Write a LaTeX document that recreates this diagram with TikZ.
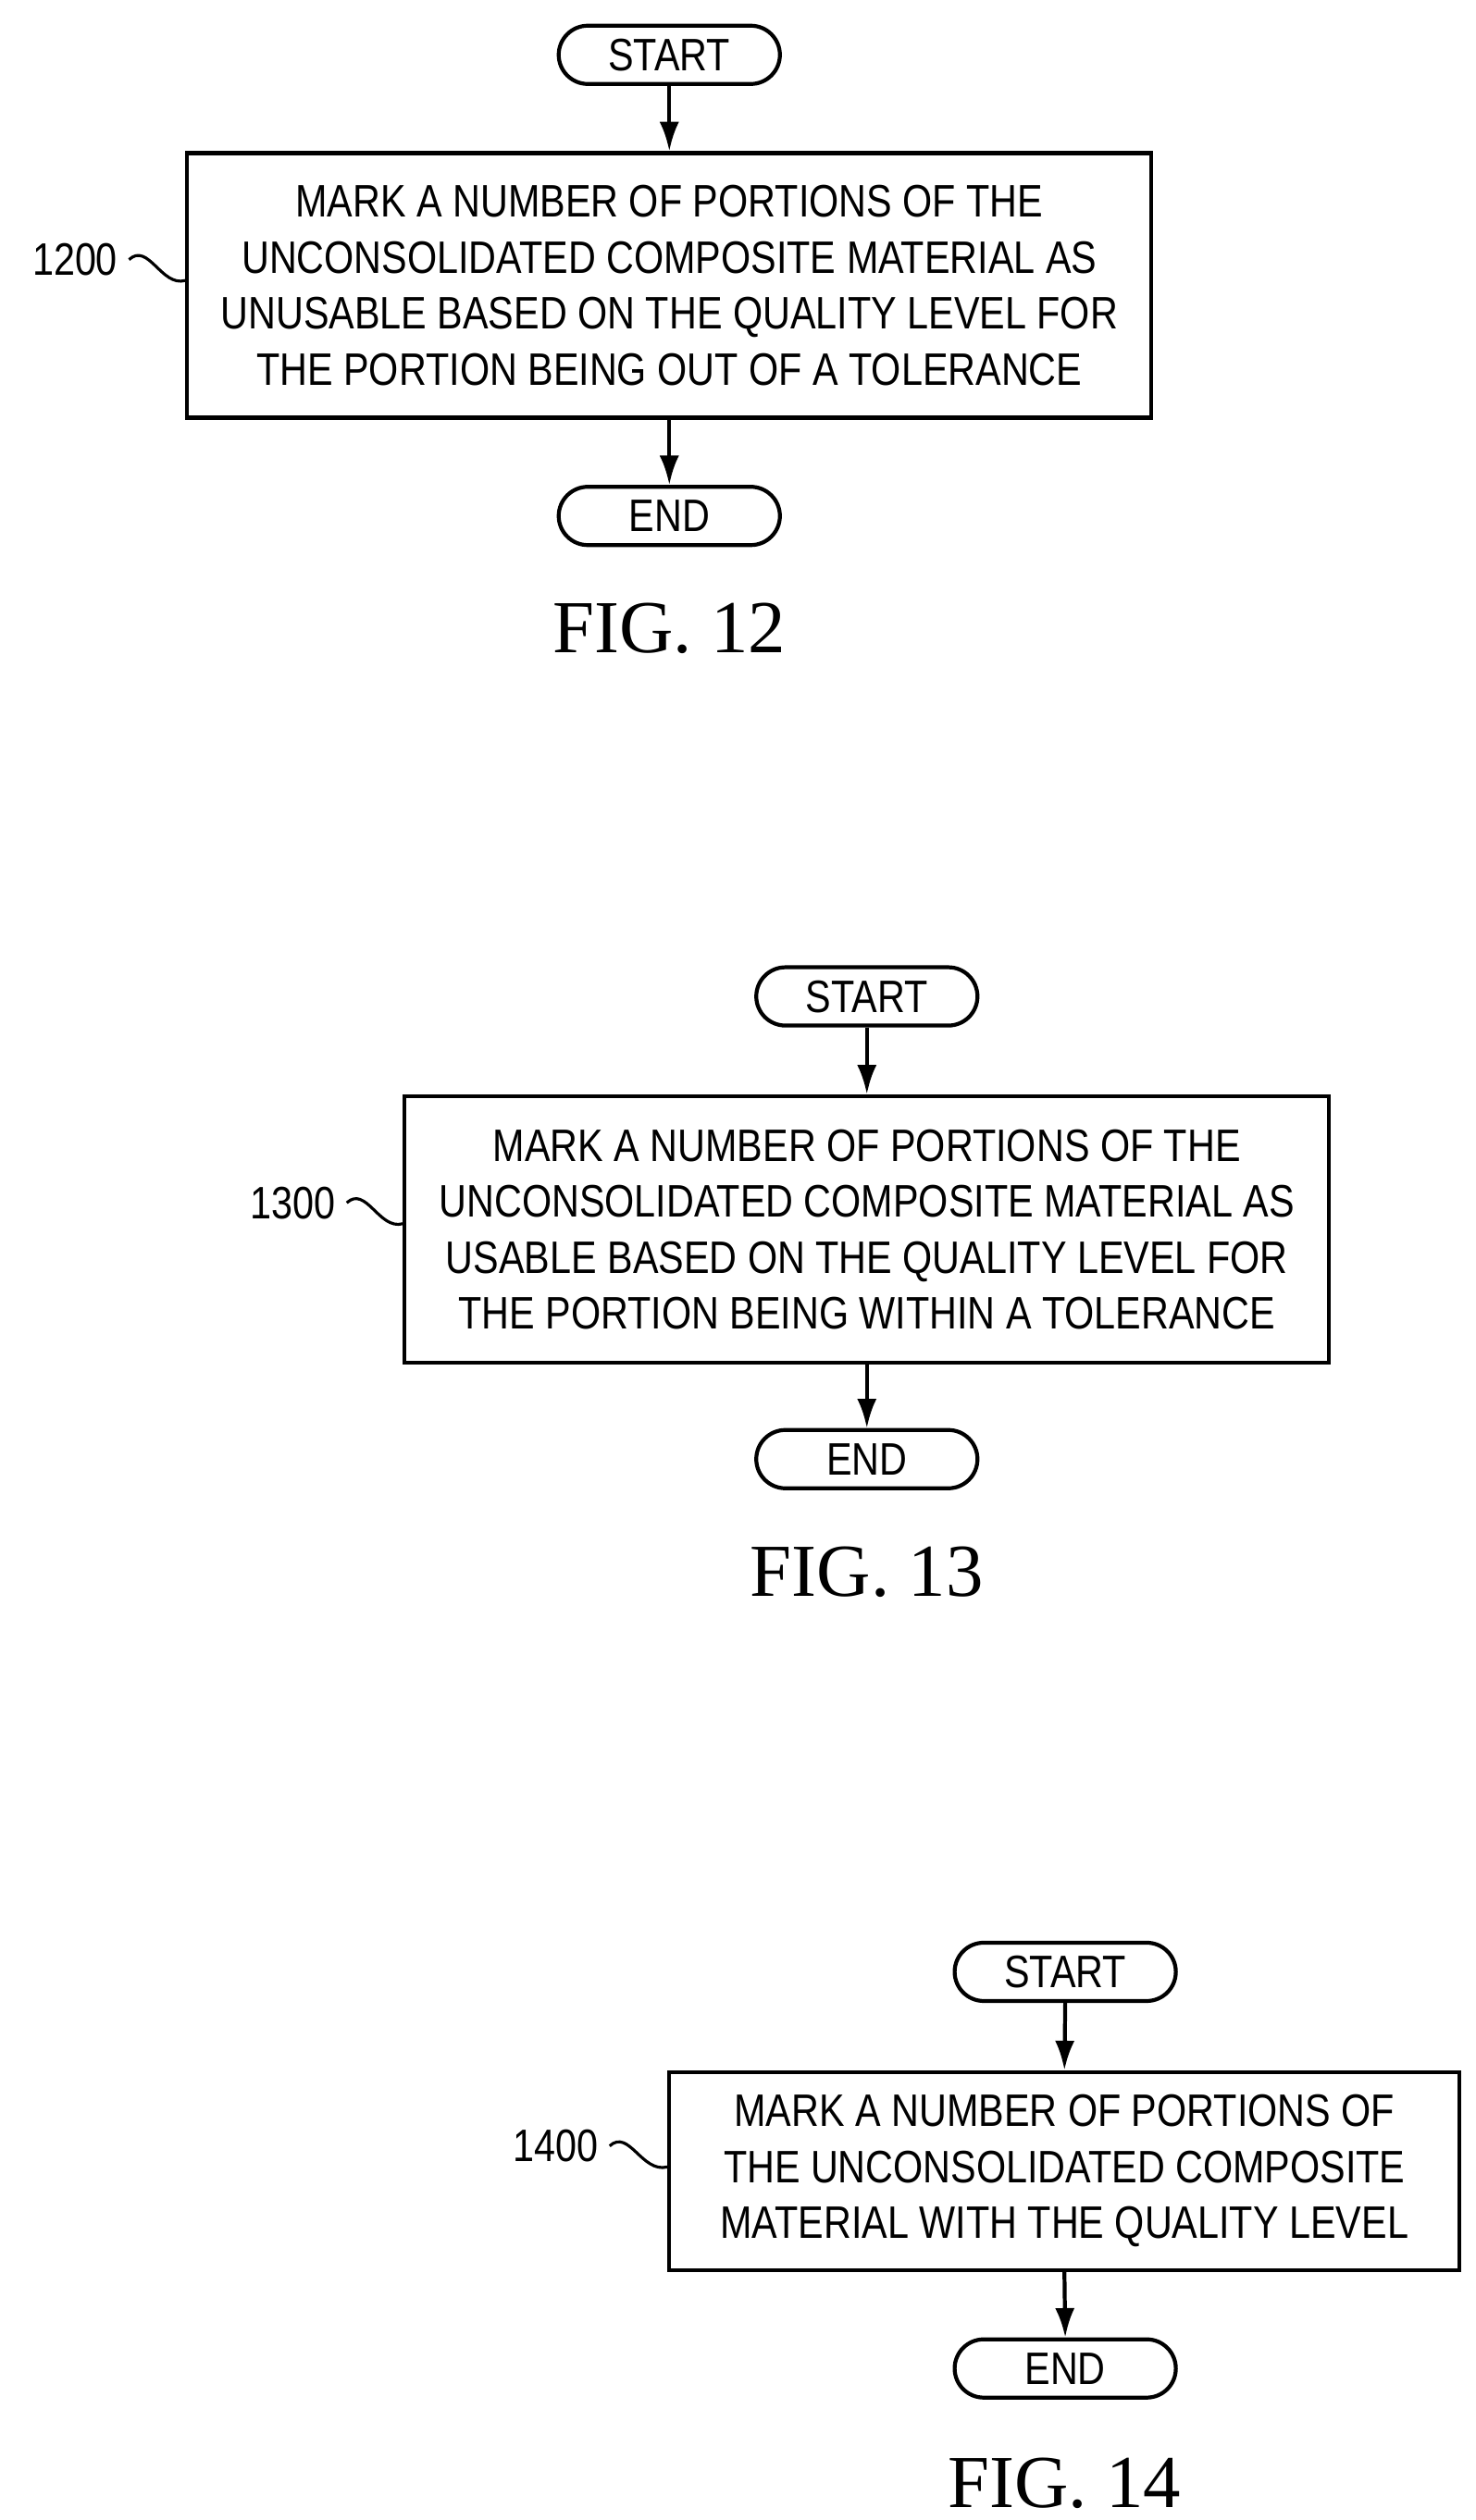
\documentclass[tikz,border=0pt]{standalone}
\usepackage{fontspec}
\setmainfont{Liberation Sans}[FakeStretch=0.84]
\newfontfamily\figfont{Liberation Serif}
\usetikzlibrary{arrows.meta}
\begin{document}
\begin{tikzpicture}
  [
    x=0.01743cm, y=-0.01743cm,
    proc/.style={draw=black, line width=1.2pt, align=center, inner sep=0pt,
      font=\fontsize{14}{17.2}\selectfont},
    term/.style={draw=black, line width=1.2pt, minimum width=2.39cm,
      minimum height=0.63cm, rounded corners=0.315cm, inner sep=0pt,
      font=\fontsize{14}{17}\selectfont},
    ref/.style={font=\fontsize{14}{17}\selectfont, anchor=east},
    fig/.style={font=\figfont\fontsize{23}{26}\selectfont},
    ld/.style={draw=black, line width=1.2pt, -{Latex[length=9pt,width=6pt]}},
    sq/.style={draw=black, line width=0.9pt}
  ]
  \useasboundingbox (0,0) rectangle (915,1563);

  % FIG. 12
  \node (s12) at (415,34) [term] {START};
  \node (b12) at (415,177) [proc, minimum width=10.42cm, minimum height=2.86cm]
    {MARK A NUMBER OF PORTIONS OF THE\\UNCONSOLIDATED COMPOSITE MATERIAL AS\\
     UNUSABLE BASED ON THE QUALITY LEVEL FOR\\THE PORTION BEING OUT OF A TOLERANCE};
  \node (e12) at (415,320) [term] {END};
  \node (f12) at (415,390) [fig] {FIG. 12};
  \node (r12) at (80,161) [ref] {1200};
  \draw [ld] (s12.south) -- (b12.north);
  \draw [ld] (b12.south) -- (e12.north);
  \draw [sq] (r12.east) .. controls (92,150) and (100,178) .. (b12.west |- 0,174);

  % FIG. 13
  \node (s13) at (537.5,618) [term] {START};
  \node (b13) at (537.5,762.5) [proc, minimum width=9.99cm, minimum height=2.88cm]
    {MARK A NUMBER OF PORTIONS OF THE\\UNCONSOLIDATED COMPOSITE MATERIAL AS\\
     USABLE BASED ON THE QUALITY LEVEL FOR\\THE PORTION BEING WITHIN A TOLERANCE};
  \node (e13) at (537.5,905) [term] {END};
  \node (f13) at (537.5,975) [fig] {FIG. 13};
  \node (r13) at (215,746) [ref] {1300};
  \draw [ld] (s13.south) -- (b13.north);
  \draw [ld] (b13.south) -- (e13.north);
  \draw [sq] (r13.east) .. controls (227,735) and (235,763) .. (b13.west |- 0,759);

  % FIG. 14
  \node (s14) at (660.5,1223) [term] {START};
  \node (b14) at (660,1346.5) [proc, minimum width=8.54cm, minimum height=2.14cm]
    {MARK A NUMBER OF PORTIONS OF\\THE UNCONSOLIDATED COMPOSITE\\
     MATERIAL WITH THE QUALITY LEVEL};
  \node (e14) at (660.5,1469) [term] {END};
  \node (f14) at (660,1540) [fig] {FIG. 14};
  \node (r14) at (378,1331) [ref] {1400};
  \draw [ld] (s14.south) -- (b14.north);
  \draw [ld] (b14.south) -- (e14.north);
  \draw [sq] (r14.east) .. controls (390,1320) and (398,1348) .. (b14.west |- 0,1344);
\end{tikzpicture}
\end{document}
